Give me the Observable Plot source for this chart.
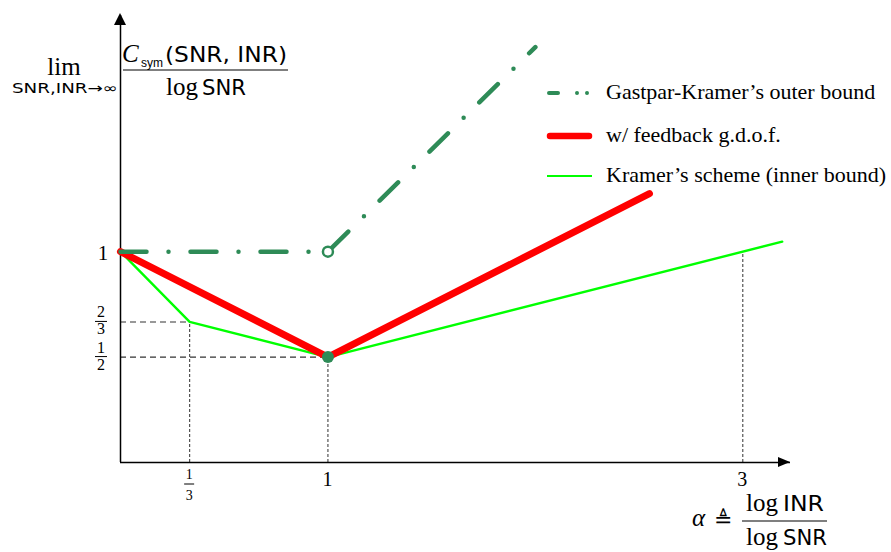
<!DOCTYPE html>
<html><head><meta charset="utf-8">
<script src="https://cdn.jsdelivr.net/npm/d3@7"></script>
<script src="https://cdn.jsdelivr.net/npm/@observablehq/plot@0.6"></script>
<style>body{margin:0;background:#fff}</style>
</head><body><div id="chart"></div>
<script>
// ---- data ----
const outerAlpha = [0, 1, 2.0];
const outerValue = [1, 1, 1.97];
const feedbackAlpha = [0, 1, 2.55];
const feedbackValue = [1, 0.5, 1.275];
const kramerAlpha = [0, 1/3, 1, 3.19];
const kramerValue = [1, 2/3, 0.5, 1.0475];
const guideAlpha = [1/3, 1, 3];
const guideValue = [2/3, 1/2, 1];
const hGuideAlpha = [1/3, 1];
const hGuideValue = [2/3, 1/2];
const openPointAlpha = [1];
const openPointValue = [1];
const filledPointAlpha = [1];
const filledPointValue = [0.5];
const xTickValues = [1/3, 1, 3];
const xTickLabels = ["1/3", "1", "3"];
const yTickValues = [1, 2/3, 1/2];
const yTickLabels = ["1", "2/3", "1/2"];
const legendLabels = ["Gastpar-Kramer\u2019s outer bound", "w/ feedback g.d.o.f.", "Kramer\u2019s scheme (inner bound)"];
const xMax = 3.23, yMax = 2.12;

const GREEN_DARK = "#2e8b57", RED = "#ff0000", GREEN = "#00ff00";
const SERIF = "Liberation Serif, Times New Roman, serif";
const SANS = "DejaVu Sans, Liberation Sans, sans-serif";
const NSANS = "Liberation Sans, Arial, sans-serif";
const DASHDOT = "26,22,0,22";

const pts = (xs, ys) => xs.map((a, i) => ({alpha: a, value: ys[i]}));

function text(g, x, y, str, opts = {}) {
  const t = g.append("text").attr("x", x).attr("y", y).text(str)
    .attr("font-family", opts.family || SERIF)
    .attr("font-size", opts.size || 20)
    .attr("text-anchor", opts.anchor || "start");
  if (opts.italic) t.attr("font-style", "italic");
  if (opts.len) t.attr("textLength", opts.len).attr("lengthAdjust", "spacingAndGlyphs");
  return t;
}
function fraction(g, cx, barY, num, den, size, halfW, upGap, downGap) {
  text(g, cx, barY - upGap, num, {size, anchor: "middle"});
  g.append("line").attr("x1", cx - halfW).attr("x2", cx + halfW)
    .attr("y1", barY).attr("y2", barY).attr("stroke", "black").attr("stroke-width", 1);
  text(g, cx, barY + downGap, den, {size, anchor: "middle"});
}

function overlay(index, scales) {
  const x = scales.x, y = scales.y;
  const g = d3.create("svg:g").attr("fill", "black");
  const x0 = x(0), y0 = y(0);
  // arrowheads
  g.append("path").attr("d", `M${x(xMax)},${y0} l-12,-5 l0,10 z`);
  g.append("path").attr("d", `M${x0},${y(yMax) - 2} l-6,12 l12,0 z`);
  // y tick labels
  yTickValues.forEach((v, i) => {
    const lab = yTickLabels[i];
    if (lab.includes("/")) {
      const [n, d] = lab.split("/");
      fraction(g, x0 - 19, y(v), n, d, 16, 6, 4, 13);
    } else {
      text(g, x0 - 17, y(v) + 9, lab, {size: 21, anchor: "middle"});
    }
  });
  // x tick labels
  xTickValues.forEach((v, i) => {
    const lab = xTickLabels[i];
    if (lab.includes("/")) {
      const [n, d] = lab.split("/");
      fraction(g, x(v), y0 + 22, n, d, 14, 5, 5, 16);
    } else {
      text(g, x(v), y0 + 24, lab, {size: 20, anchor: "middle"});
    }
  });
  // y axis label
  text(g, 64, 75, "lim", {size: 25, anchor: "middle"});
  text(g, 12, 93, "SNR,INR\u2192\u221e", {size: 14, family: SANS, len: 106});
  text(g, 122, 62, "C", {size: 25, italic: true});
  text(g, 141, 67, "sym", {size: 12, family: NSANS});
  text(g, 165, 62, "(SNR, INR)", {size: 21, family: SANS, len: 122});
  g.append("line").attr("x1", 123).attr("x2", 288).attr("y1", 70).attr("y2", 70)
    .attr("stroke", "black").attr("stroke-width", 1.2);
  text(g, 166, 95, "log", {size: 25});
  text(g, 202, 95, "SNR", {size: 21, family: SANS, len: 44});
  // x axis label
  text(g, 692, 526, "\u03b1", {size: 25, italic: true});
  text(g, 714, 527, "\u225c", {size: 22, family: "DejaVu Serif, serif"});
  text(g, 746, 511, "log", {size: 25});
  text(g, 783, 511, "INR", {size: 21, family: SANS, len: 41});
  g.append("line").attr("x1", 742).attr("x2", 827).attr("y1", 521).attr("y2", 521)
    .attr("stroke", "black").attr("stroke-width", 1.2);
  text(g, 746, 545, "log", {size: 25});
  text(g, 783, 545, "SNR", {size: 21, family: SANS, len: 44});
  // legend
  const lx1 = 547, lx2 = 592, tx = 606;
  const rows = [93, 136, 176];
  g.append("line").attr("x1", lx1 + 2).attr("x2", lx2).attr("y1", rows[0]).attr("y2", rows[0])
    .attr("stroke", GREEN_DARK).attr("stroke-width", 4).attr("stroke-linecap", "round")
    .attr("stroke-dasharray", "9,19,0,10,0,40");
  g.append("line").attr("x1", lx1 + 3).attr("x2", lx2 - 3).attr("y1", rows[1]).attr("y2", rows[1])
    .attr("stroke", RED).attr("stroke-width", 6.5).attr("stroke-linecap", "round");
  g.append("line").attr("x1", lx1).attr("x2", lx2).attr("y1", rows[2]).attr("y2", rows[2])
    .attr("stroke", GREEN).attr("stroke-width", 2);
  legendLabels.forEach((l, i) => text(g, tx, rows[i] + 6, l, {size: 22}));
  return g.node();
}

const chart = Plot.plot({
  width: 891,
  height: 552,
  marginLeft: 120,
  marginRight: 101,
  marginTop: 15,
  marginBottom: 90,
  x: {domain: [0, xMax], axis: null},
  y: {domain: [0, yMax], axis: null},
  style: {background: "white", overflow: "visible", fontFamily: SERIF},
  marks: [
    Plot.ruleY(pts(hGuideAlpha, hGuideValue), {x1: 0, x2: "alpha", y: "value", stroke: "#333", strokeWidth: 1.1, strokeDasharray: "6,4"}),
    Plot.ruleX(pts(guideAlpha, guideValue), {x: "alpha", y1: 0, y2: "value", stroke: "#444", strokeWidth: 1.1, strokeDasharray: "3,2"}),
    Plot.ruleX([0], {y1: 0, y2: yMax, stroke: "black", strokeWidth: 1.5}),
    Plot.ruleY([0], {x1: 0, x2: xMax, stroke: "black", strokeWidth: 1.5}),
    Plot.line(pts(kramerAlpha, kramerValue), {x: "alpha", y: "value", stroke: GREEN, strokeWidth: 2.4}),
    Plot.line(pts(feedbackAlpha, feedbackValue), {x: "alpha", y: "value", stroke: RED, strokeWidth: 7, strokeLinecap: "round", strokeLinejoin: "round"}),
    Plot.line(pts(outerAlpha, outerValue), {x: "alpha", y: "value", stroke: GREEN_DARK, strokeWidth: 4.5, strokeLinecap: "round", strokeDasharray: DASHDOT}),
    Plot.dot(pts(openPointAlpha, openPointValue), {x: "alpha", y: "value", r: 5, fill: "white", stroke: GREEN_DARK, strokeWidth: 2.5}),
    Plot.dot(pts(filledPointAlpha, filledPointValue), {x: "alpha", y: "value", r: 6, fill: GREEN_DARK, stroke: "none"}),
    overlay
  ]
});
document.getElementById("chart").appendChild(chart);
</script>
</body></html>
